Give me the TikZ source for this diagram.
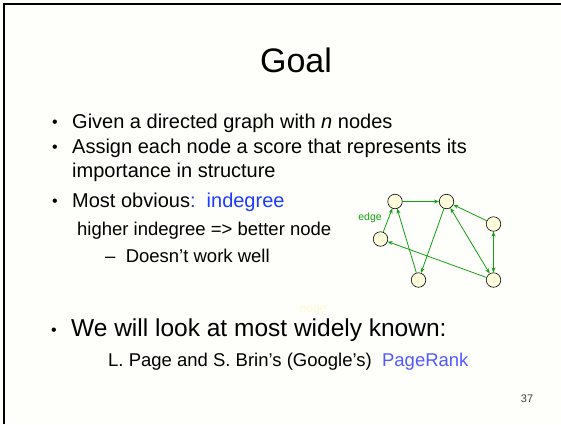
\documentclass[tikz,border=0pt]{standalone}
\usepackage{fontspec}
\setmainfont{Liberation Sans}
\usetikzlibrary{arrows.meta}
\definecolor{paper}{RGB}{254,254,250}
\definecolor{hiblue}{RGB}{30,60,255}
\definecolor{softblue}{RGB}{80,90,255}
\definecolor{edgegreen}{RGB}{20,160,20}
\definecolor{vfill}{RGB}{255,252,220}
\definecolor{ghost}{RGB}{255,250,215}
\definecolor{pagenum}{RGB}{64,64,64}
\begin{document}
\begin{tikzpicture}[x=1pt,y=-1pt,
  txt/.style={anchor=base west, inner sep=0pt},
  big/.style={font=\fontsize{20}{24}\selectfont},
  small/.style={font=\fontsize{18.5}{22}\selectfont},
  dot/.style={anchor=base west, inner sep=0pt, font=\fontsize{16}{18}\selectfont},
  vtx/.style={circle, draw=black, fill=vfill, minimum size=14.5pt, inner sep=0pt, line width=0.6pt},
  tip/.style={-{Stealth[length=5pt,width=4pt]}},
  link/.style={draw=edgegreen, line width=0.8pt, tip}
]
\useasboundingbox (0,0) rectangle (561,424);
\fill[paper] (0,0) rectangle (561,424);
\draw[line width=2pt] (4,424) -- (4,4) -- (561,4);

% title
\node[anchor=base, inner sep=0pt, font=\fontsize{34}{40}\selectfont] (title) at (296,72) {Goal};

% bullet list
\node[dot] (b1) at (52,127) {•};
\node[txt,big] (l1) at (72,128) {Given a directed graph with \textit{n} nodes};
\node[dot] (b2) at (52,152) {•};
\node[txt,big] (l2) at (72,153) {Assign each node a score that represents its};
\node[txt,big] (l3) at (72,177) {importance in structure};
\node[dot] (b3) at (52,206) {•};
\node[txt,big] (l4) at (72,207) {Most obvious\textcolor{hiblue}{:\ \ indegree}};
\node[txt,small] (l5) at (77,235) {higher indegree => better node};
\node[txt,small] (l6) at (105,262) {–\ \ Doesn’t work well};
\node[dot] (b4) at (51,335) {•};
\node[txt,font=\fontsize{24.5}{28}\selectfont] (l7) at (71,336) {We will look at most widely known:};
\node[txt,small] (l8) at (108,366) {L. Page and S. Brin’s (Google’s)\ \ \textcolor{softblue}{PageRank}};

% faint leftover label
\node[anchor=center, inner sep=0pt, text=ghost, font=\fontsize{12}{14}\selectfont] (ghostlbl) at (313,308) {node};

% page number
\node[anchor=base, inner sep=0pt, text=pagenum, font=\fontsize{11}{13}\selectfont] (pg) at (527,402) {37};

% small directed graph
\node[vtx] (A) at (395,201.5) {};
\node[vtx] (B) at (446.5,201.5) {};
\node[vtx] (C) at (493.5,224) {};
\node[vtx] (D) at (380.5,239) {};
\node[vtx] (E) at (418.5,280) {};
\node[vtx] (F) at (493.5,280) {};
\node[anchor=center, inner sep=0pt, text=edgegreen, font=\fontsize{10.5}{12}\selectfont] (elbl) at (370,218) {edge};

\draw[link] (A) -- (B);
\draw[link] (D) -- (A);
\draw[link] (E) -- (A);
\draw[link] (B) -- (E);
\draw[link] (C) -- (B);
\draw[link,{Stealth[length=5pt,width=4pt]}-{Stealth[length=5pt,width=4pt]}] (B) -- (F);
\draw[link,{Stealth[length=5pt,width=4pt]}-{Stealth[length=5pt,width=4pt]}] (C) -- (F);
\draw[link] (F) -- (D);
\end{tikzpicture}
\end{document}
